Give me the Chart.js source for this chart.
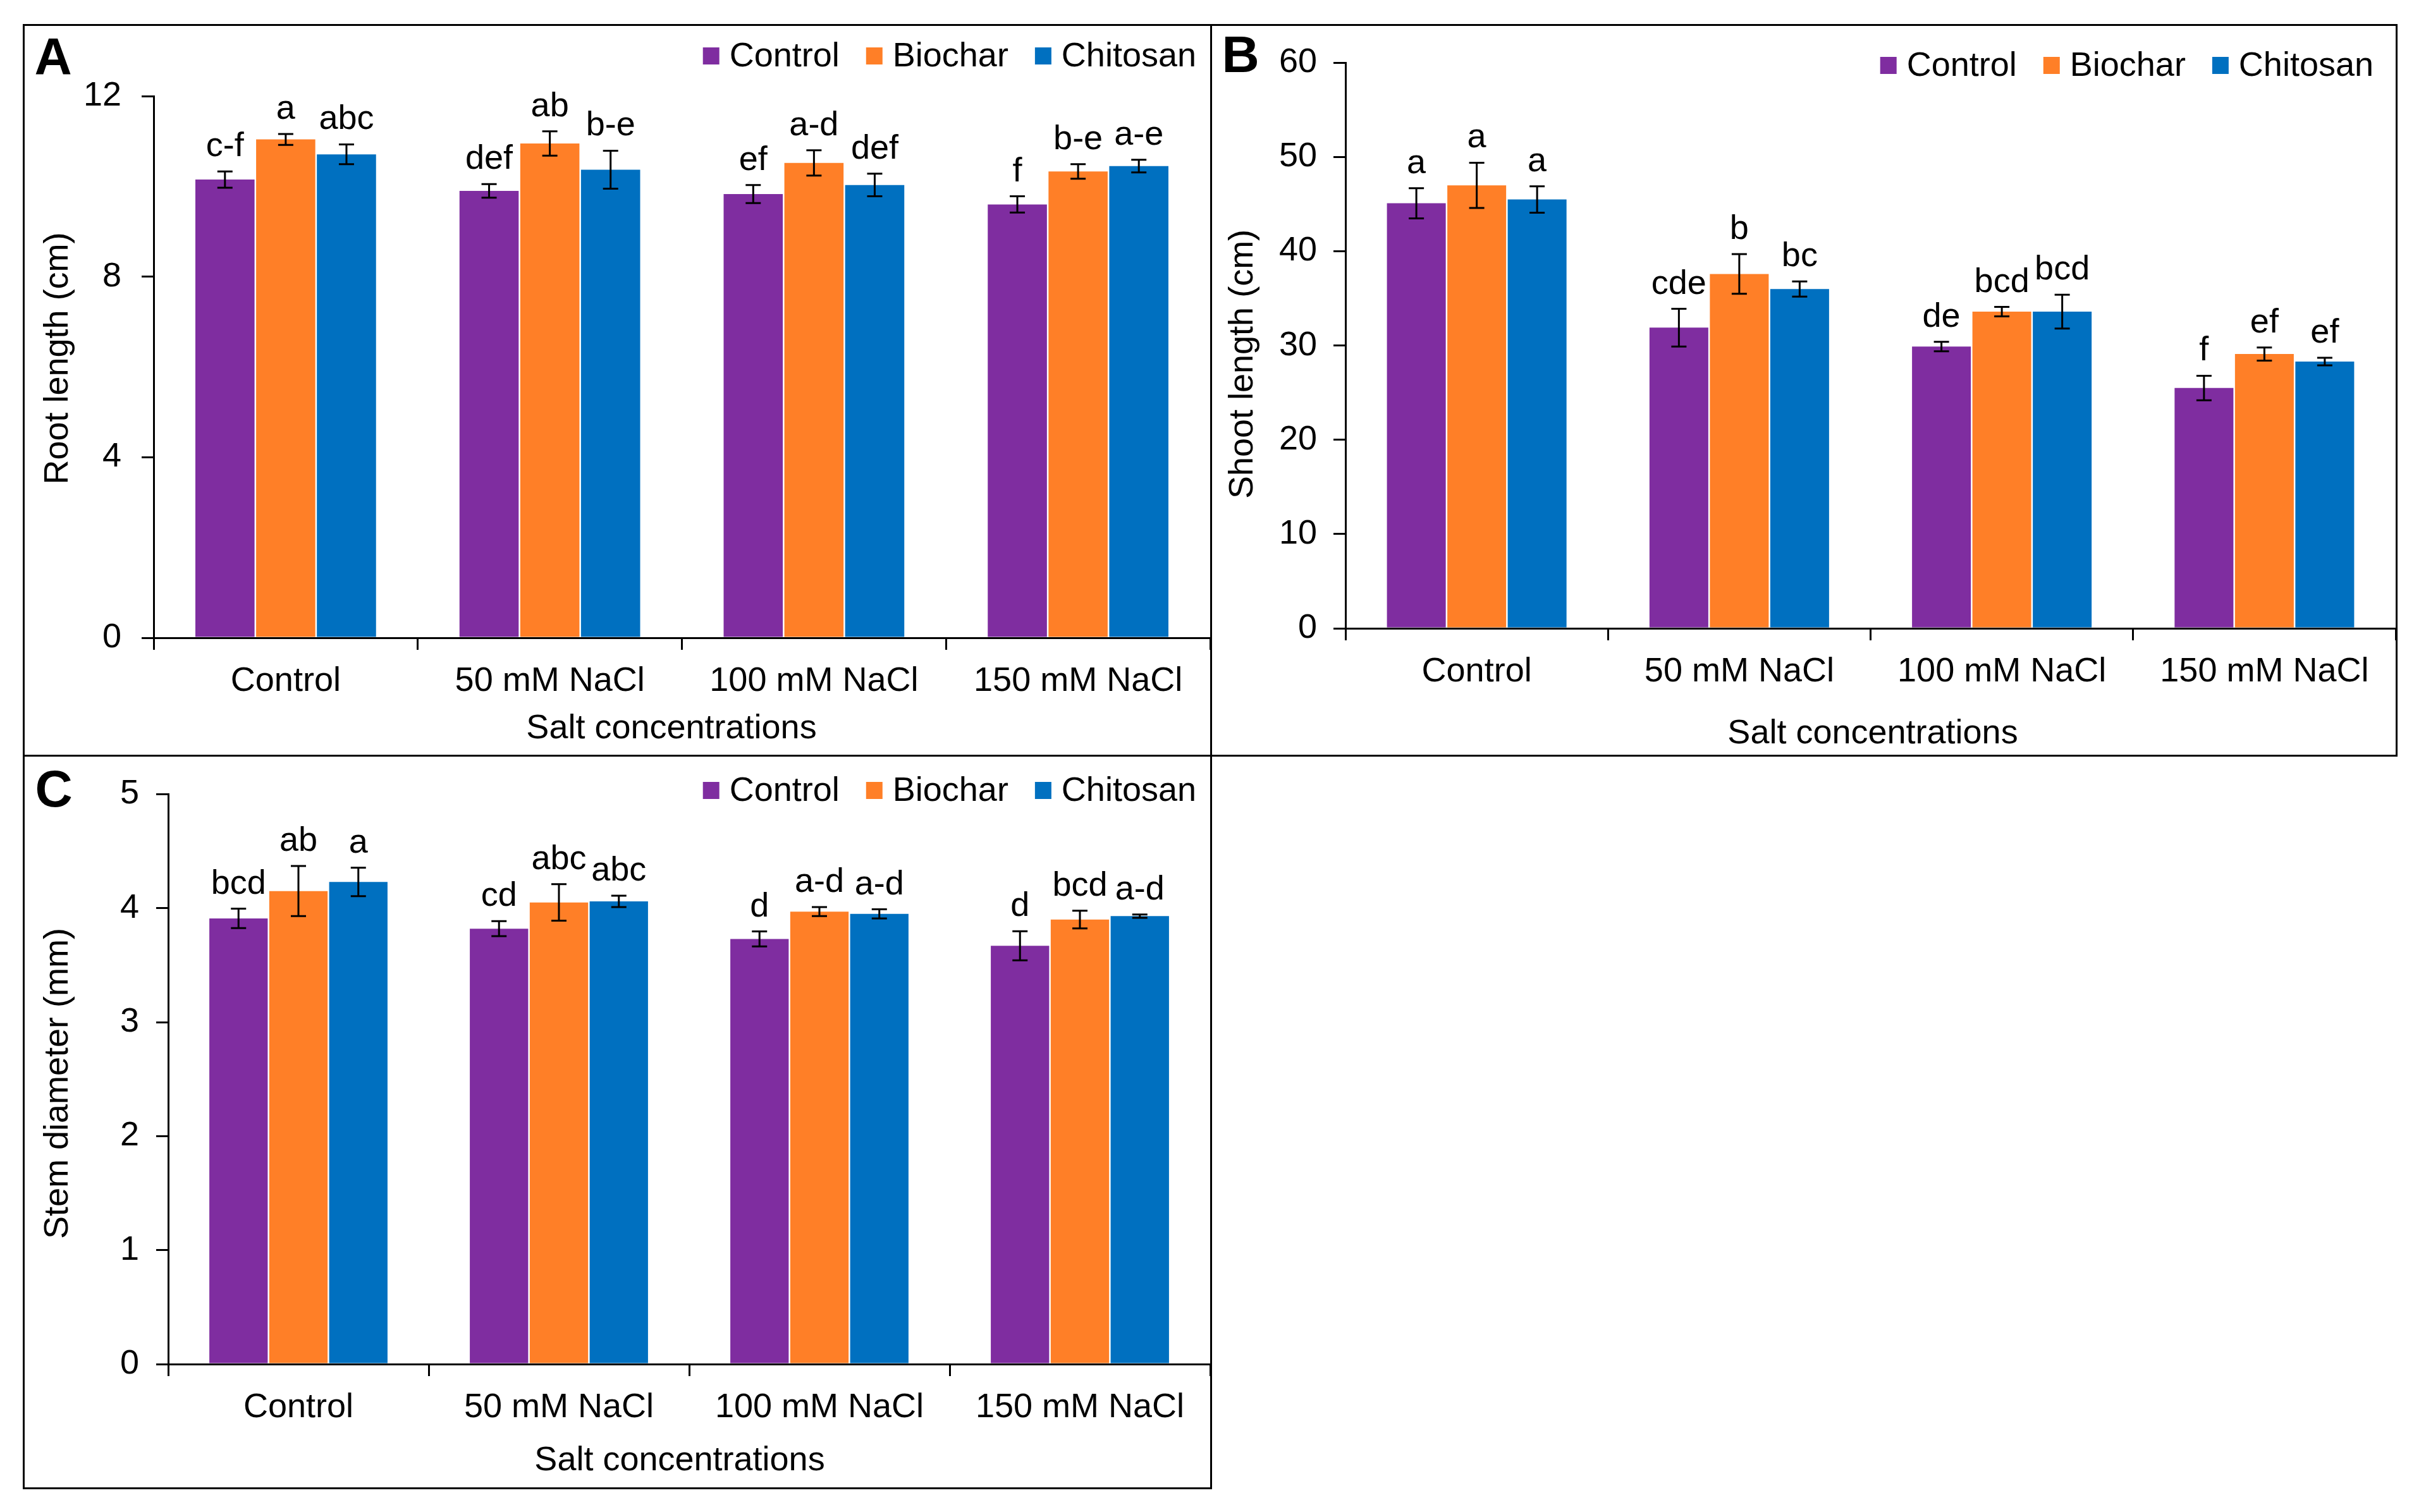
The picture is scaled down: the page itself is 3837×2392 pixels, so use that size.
<!DOCTYPE html>
<html>
<head>
  <meta charset="utf-8">
  <title>Root length, shoot length and stem diameter</title>
  <script src="https://cdn.jsdelivr.net/npm/chart.js@4.4.1/dist/chart.umd.min.js"></script>
  <style>
    html, body { margin: 0; padding: 0; background: #fff; }
    body { width: 3837px; height: 2392px; position: relative; overflow: hidden; }
    .panel { position: absolute; border: 3px solid #000; box-sizing: border-box; }
    .panel canvas { display: block; }
  </style>
</head>
<body>
  <div class="panel" style="left:36px; top:38px; width:1881px; height:1159px;">
    <canvas id="chartA" width="1875" height="1153"></canvas>
  </div>
  <div class="panel" style="left:1914px; top:38px; width:1878px; height:1159px;">
    <canvas id="chartB" width="1872" height="1153"></canvas>
  </div>
  <div class="panel" style="left:36px; top:1194px; width:1881px; height:1162px;">
    <canvas id="chartC" width="1875" height="1156"></canvas>
  </div>

  <script>
    const categories = ['Control', '50 mM NaCl', '100 mM NaCl', '150 mM NaCl'];
    const treatments = ['Control', 'Biochar', 'Chitosan'];
    const colors = ['#7f2da0', '#ff7f27', '#0070c0'];

    // A - root length (cm)
    const rootControl = [10.15, 9.90, 9.83, 9.60];
    const rootBiochar = [11.04, 10.95, 10.52, 10.33];
    const rootChitosan = [10.71, 10.37, 10.03, 10.45];
    const rootControlErr = [0.18, 0.15, 0.20, 0.18];
    const rootBiocharErr = [0.12, 0.27, 0.28, 0.16];
    const rootChitosanErr = [0.22, 0.42, 0.25, 0.14];
    const rootControlLetters = ['c-f', 'def', 'ef', 'f'];
    const rootBiocharLetters = ['a', 'ab', 'a-d', 'b-e'];
    const rootChitosanLetters = ['abc', 'b-e', 'def', 'a-e'];

    // B - shoot length (cm)
    const shootControl = [45.1, 31.9, 29.9, 25.5];
    const shootBiochar = [47.0, 37.6, 33.6, 29.1];
    const shootChitosan = [45.5, 36.0, 33.6, 28.3];
    const shootControlErr = [1.6, 2.0, 0.5, 1.3];
    const shootBiocharErr = [2.4, 2.1, 0.5, 0.7];
    const shootChitosanErr = [1.4, 0.8, 1.8, 0.4];
    const shootControlLetters = ['a', 'cde', 'de', 'f'];
    const shootBiocharLetters = ['a', 'b', 'bcd', 'ef'];
    const shootChitosanLetters = ['a', 'bc', 'bcd', 'ef'];

    // C - stem diameter (mm)
    const stemControl = [3.91, 3.82, 3.73, 3.67];
    const stemBiochar = [4.15, 4.05, 3.97, 3.90];
    const stemChitosan = [4.23, 4.06, 3.95, 3.93];
    const stemControlErr = [0.085, 0.066, 0.066, 0.128];
    const stemBiocharErr = [0.22, 0.16, 0.04, 0.077];
    const stemChitosanErr = [0.125, 0.05, 0.04, 0.015];
    const stemControlLetters = ['bcd', 'cd', 'd', 'd'];
    const stemBiocharLetters = ['ab', 'abc', 'a-d', 'bcd'];
    const stemChitosanLetters = ['a', 'abc', 'a-d', 'a-d'];

    const FONT = '"Liberation Sans", Arial, sans-serif';
    Chart.defaults.color = '#000';
    Chart.defaults.font.family = FONT;

    // error bars, significance letters, legend, titles
    const extras = {
      id: 'extras',
      afterDatasetsDraw(chart, args, o) {
        const ctx = chart.ctx;
        const y = chart.scales.y;
        ctx.save();
        ctx.strokeStyle = '#000';
        ctx.fillStyle = '#000';
        ctx.lineWidth = 3;
        ctx.font = '54px ' + FONT;
        ctx.textAlign = 'center';
        ctx.textBaseline = 'alphabetic';
        chart.data.datasets.forEach((ds, i) => {
          chart.getDatasetMeta(i).data.forEach((bar, j) => {
            const v = ds.data[j], e = ds.errors[j];
            const top = y.getPixelForValue(v + e);
            const bot = y.getPixelForValue(v - e);
            ctx.beginPath();
            ctx.moveTo(bar.x, top); ctx.lineTo(bar.x, bot);
            ctx.moveTo(bar.x - 12, top); ctx.lineTo(bar.x + 12, top);
            ctx.moveTo(bar.x - 12, bot); ctx.lineTo(bar.x + 12, bot);
            ctx.stroke();
            ctx.fillText(ds.letters[j], bar.x, top - 24);
          });
        });

        // legend, right aligned
        ctx.textAlign = 'left';
        ctx.textBaseline = 'middle';
        const items = chart.data.datasets.map(ds => ({ label: ds.label, color: ds.backgroundColor, w: ctx.measureText(ds.label).width }));
        let total = items.reduce((s, it) => s + 26 + 16 + it.w, 0) + 42 * (items.length - 1);
        let x = o.legendRight - total;
        items.forEach(it => {
          ctx.fillStyle = it.color;
          ctx.fillRect(x, o.legendY - 13, 26, 27);
          ctx.fillStyle = '#000';
          ctx.fillText(it.label, x + 42, o.legendY + 2);
          x += 42 + it.w + 42;
        });

        // axis titles
        ctx.textAlign = 'center';
        ctx.fillText(o.xTitle, o.xTitleX, o.xTitleY);
        ctx.save();
        ctx.translate(o.yTitleX, o.yTitleY);
        ctx.rotate(-Math.PI / 2);
        ctx.fillText(o.yTitle, 0, 0);
        ctx.restore();

        // panel letter
        ctx.font = 'bold 82px ' + FONT;
        ctx.fillText(o.panel, o.panelX, o.panelY);
        ctx.restore();
      }
    };

    function makeChart(id, series, errs, letters, o) {
      const datasets = treatments.map((t, i) => ({
        label: t,
        data: series[i],
        errors: errs[i],
        letters: letters[i],
        backgroundColor: colors[i],
        borderWidth: 0,
        categoryPercentage: 0.69,
        barPercentage: 0.974
      }));

      const config = {
        type: 'bar',
        data: { labels: categories, datasets: datasets },
        plugins: [extras],
        options: {
          responsive: false,
          animation: false,
          devicePixelRatio: 1,
          layout: { padding: { top: o.top, left: 0, right: 0, bottom: 0 } },
          plugins: {
            legend: { display: false },
            tooltip: { enabled: false },
            extras: o
          },
          scales: {
            x: {
              z: 1,
              grid: { drawOnChartArea: false, drawTicks: true, tickLength: 19, offset: true, color: '#000', lineWidth: 3 },
              border: { color: '#000', width: 3 },
              ticks: { font: { size: 54 }, color: '#000', padding: 18, maxRotation: 0, autoSkip: false },
              afterFit: s => { s.height = o.xh; }
            },
            y: {
              min: 0,
              max: o.max,
              grid: { drawOnChartArea: false, tickLength: 19, color: '#000', lineWidth: 3 },
              border: { color: '#000', width: 3 },
              ticks: { stepSize: o.step, font: { size: 54 }, color: '#000', padding: o.pad },
              afterFit: s => { s.width = o.left; }
            }
          }
        }
      };
      return new Chart(document.getElementById(id), config);
    }

    makeChart('chartA',
      [rootControl, rootBiochar, rootChitosan],
      [rootControlErr, rootBiocharErr, rootChitosanErr],
      [rootControlLetters, rootBiocharLetters, rootChitosanLetters],
      { top: 111, left: 204, xh: 185, pad: 32, max: 12, step: 4,
        legendRight: 1853, legendY: 47, panel: 'A', panelX: 45, panelY: 53,
        yTitle: 'Root length (cm)', yTitleX: 53, yTitleY: 526,
        xTitle: 'Salt concentrations', xTitleX: 1023, xTitleY: 1112 });

    makeChart('chartB',
      [shootControl, shootBiochar, shootChitosan],
      [shootControlErr, shootBiocharErr, shootChitosanErr],
      [shootControlLetters, shootBiocharLetters, shootChitosanLetters],
      { top: 35, left: 211, xh: 200, pad: 26, max: 60, step: 10,
        legendRight: 1837, legendY: 62, panel: 'B', panelX: 45, panelY: 50,
        yTitle: 'Shoot length (cm)', yTitleX: 49, yTitleY: 535,
        xTitle: 'Salt concentrations', xTitleX: 1045, xTitleY: 1120 });

    makeChart('chartC',
      [stemControl, stemBiochar, stemChitosan],
      [stemControlErr, stemBiocharErr, stemChitosanErr],
      [stemControlLetters, stemBiocharLetters, stemChitosanLetters],
      { top: 51, left: 227, xh: 195, pad: 27, max: 5, step: 1,
        legendRight: 1853, legendY: 53, panel: 'C', panelX: 46, panelY: 56,
        yTitle: 'Stem diameter (mm)', yTitleX: 53, yTitleY: 517,
        xTitle: 'Salt concentrations', xTitleX: 1036, xTitleY: 1114 });
  </script>
</body>
</html>
